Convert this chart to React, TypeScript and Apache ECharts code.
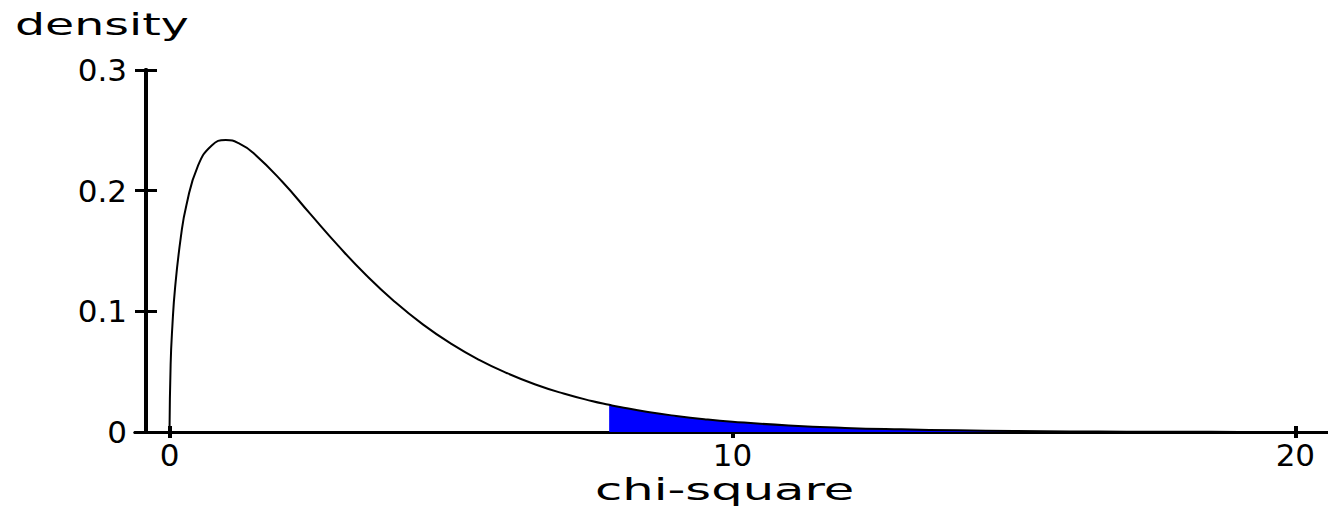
import React, { useEffect, useRef } from "react";
import * as echarts from "echarts";

// chi-square values (x) and the density (y)
const chiX = [0, 0.02, 0.05, 0.1, 0.2, 0.3, 0.5, 0.75, 1, 1.25, 1.5, 2, 2.5, 3, 3.5, 4, 4.5, 5, 5.5, 6, 6.5, 7, 7.5, 7.81, 8, 8.5, 9, 9.5, 10, 11, 12, 13, 14, 15, 16, 17, 18, 19, 19.6];
const densityY = [0, 0.056, 0.087, 0.12, 0.161, 0.188, 0.22, 0.2375, 0.242, 0.2388, 0.2308, 0.2076, 0.1807, 0.1542, 0.1297, 0.108, 0.0892, 0.0732, 0.0598, 0.0487, 0.0394, 0.0319, 0.0257, 0.0225, 0.0207, 0.0166, 0.0133, 0.0106, 0.0085, 0.0054, 0.0034, 0.0022, 0.0014, 0.0009, 0.0005, 0.0003, 0.0002, 0.0001, 0.0001];
const criticalValue = 7.81;

const xTickValues = [0, 10, 20];
const yTickValues = [0, 0.1, 0.2, 0.3];
const yLabelText = ["0", "0.1", "0.2", "0.3"];
const xTitle = "chi-square";
const yTitle = "density";

const FONT = "DejaVu Sans";

export default function App() {
  const ref = useRef<HTMLDivElement>(null);
  useEffect(() => {
    if (!ref.current) return;
    const chart = echarts.init(ref.current, undefined, { renderer: "svg" });
    const curve = chiX.map((x, i) => [x, densityY[i]]);
    const tail = curve.filter((p) => p[0] >= criticalValue);

    const xBase = {
      type: "value" as const,
      min: -0.613,
      max: 20.58,
      position: "bottom" as const,
      splitLine: { show: false },
      axisLine: { show: true, onZero: false, lineStyle: { color: "#000", width: 3 } },
    };
    const yBase = {
      type: "value" as const,
      min: 0,
      max: 0.3,
      interval: 0.1,
      position: "left" as const,
      offset: -11,
      splitLine: { show: false },
      axisLine: { show: true, onZero: false, lineStyle: { color: "#000", width: 4 } },
    };

    chart.setOption({
      animation: false,
      backgroundColor: "#fff",
      grid: { left: 135, right: 0, top: 70, bottom: 78, containLabel: false },
      xAxis: [
        {
          ...xBase,
          axisTick: { show: true, length: 6, customValues: xTickValues, lineStyle: { color: "#000", width: 4 } },
          axisLabel: { show: true, customValues: xTickValues, margin: 7, fontFamily: FONT, fontSize: 31, color: "#000" },
        },
        {
          ...xBase,
          axisTick: { show: true, inside: true, length: 6, customValues: xTickValues, lineStyle: { color: "#000", width: 4 } },
          axisLabel: { show: false },
        },
      ],
      yAxis: [
        {
          ...yBase,
          axisTick: { show: true, length: 11, lineStyle: { color: "#000", width: 3 } },
          axisLabel: {
            show: true,
            margin: 19,
            fontFamily: FONT,
            fontSize: 31,
            color: "#000",
            formatter: (v: number) => {
              const i = yTickValues.findIndex((t) => Math.abs(t - v) < 1e-9);
              return i >= 0 ? yLabelText[i] : "";
            },
          },
        },
        {
          ...yBase,
          axisTick: { show: true, inside: true, length: 11, lineStyle: { color: "#000", width: 3 } },
          axisLabel: { show: false },
        },
      ],
      graphic: [
        {
          type: "text",
          x: 15,
          y: 9,
          scaleX: 1.53,
          style: { text: yTitle, fill: "#000", font: `31px "${FONT}"`, align: "left", verticalAlign: "top" },
        },
        {
          type: "text",
          x: 595,
          y: 474,
          scaleX: 1.6,
          style: { text: xTitle, fill: "#000", font: `31px "${FONT}"`, align: "left", verticalAlign: "top" },
        },
      ],
      series: [
        {
          type: "line",
          xAxisIndex: 0,
          yAxisIndex: 0,
          data: tail,
          showSymbol: false,
          smooth: 0.5,
          lineStyle: { width: 0, color: "#0000ff" },
          areaStyle: { color: "#0000ff", opacity: 1 },
          z: 2,
        },
        {
          type: "line",
          xAxisIndex: 0,
          yAxisIndex: 0,
          data: curve,
          showSymbol: false,
          smooth: 0.5,
          lineStyle: { width: 2, color: "#000" },
          z: 3,
        },
      ],
    });
    return () => chart.dispose();
  }, []);
  return (
    <div
      ref={ref}
      style={{ position: "absolute", left: 0, top: 0, width: 1328, height: 510, background: "#fff" }}
    />
  );
}
